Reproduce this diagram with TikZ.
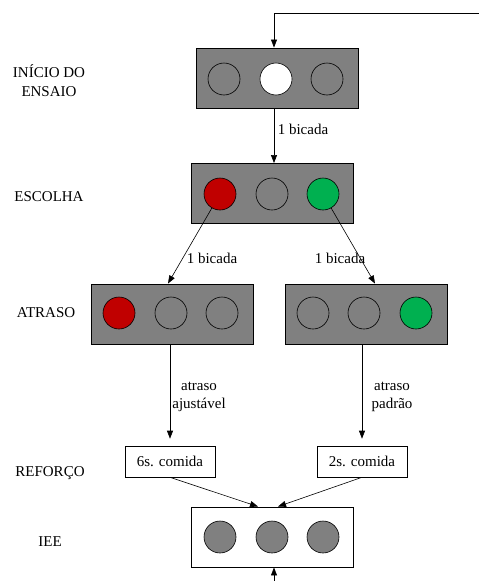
\documentclass[tikz,border=0pt]{standalone}
\usepackage{fontspec}
\setmainfont{Liberation Serif}
\usetikzlibrary{arrows.meta}
\definecolor{boxgray}{HTML}{808080}
\definecolor{lred}{HTML}{C00000}
\definecolor{lgreen}{HTML}{00B050}
\begin{document}
\begin{tikzpicture}[x=1pt,y=-1pt,
  font=\fontsize{15pt}{18.5pt}\selectfont,
  panel/.style={draw=black, line width=0.9pt, minimum width=162pt, minimum height=60pt, inner sep=0pt},
  graypanel/.style={panel, fill=boxgray},
  whitepanel/.style={panel, fill=white},
  lamp/.style={circle, draw=black, line width=0.6pt, minimum size=32pt, inner sep=0pt},
  foodbox/.style={draw=black, line width=0.6pt, fill=white, minimum width=90pt, minimum height=31pt, inner sep=0pt},
  lbl/.style={align=center, inner sep=0pt},
  arr/.style={draw=black, line width=0.6pt, -{Triangle[length=8pt,width=6pt]}}
]
\useasboundingbox (0,0) rectangle (479,581);

% panels
\node[graypanel] (b1) at (277,78) {};
\node[graypanel] (b2) at (272.5,193.5) {};
\node[graypanel] (b3) at (172,314) {};
\node[graypanel] (b4) at (366,314) {};
\node[foodbox] (b5) at (170,461.5) {6s. comida};
\node[foodbox] (b6) at (362,461.5) {2s. comida};
\node[whitepanel] (b7) at (272.5,537) {};

% lamps
\node[lamp] (c11) at (224,79) {};
\node[lamp, fill=white] (c12) at (276,79) {};
\node[lamp] (c13) at (327,79) {};
\node[lamp, fill=lred] (c21) at (220,194) {};
\node[lamp] (c22) at (272,194) {};
\node[lamp, fill=lgreen] (c23) at (323,194) {};
\node[lamp, fill=lred] (c31) at (119,313) {};
\node[lamp] (c32) at (171,313) {};
\node[lamp] (c33) at (222,313) {};
\node[lamp] (c41) at (313,313) {};
\node[lamp] (c42) at (364,313) {};
\node[lamp, fill=lgreen] (c43) at (416,313) {};
\node[lamp, fill=boxgray] (c71) at (220,537) {};
\node[lamp, fill=boxgray] (c72) at (272,537) {};
\node[lamp, fill=boxgray] (c73) at (323,537) {};

% left labels
\node[lbl] (l1) at (49,80.5) {INÍCIO DO\\ENSAIO};
\node[lbl] (l2) at (49,197) {ESCOLHA};
\node[lbl] (l3) at (46,313) {ATRASO};
\node[lbl] (l4) at (50,473) {REFORÇO};
\node[lbl] (l5) at (50,542) {IEE};

% connector labels
\node[lbl] (t1) at (303,129) {1 bicada};
\node[lbl] (t2) at (212,258) {1 bicada};
\node[lbl] (t3) at (340,258) {1 bicada};
\node[lbl] (t4) at (199,397) {atraso\\ajustável};
\node[lbl] (t5) at (392,397) {atraso\\padrão};

% coordinates
\coordinate (topR) at (479,13);
\coordinate (botS) at (274,581);

% connectors
\draw[arr] (topR) -| ([xshift=-3pt]b1.north);
\draw[arr] ([xshift=-3pt]b1.south) -- ([xshift=-3pt]b1.south |- b2.north);
\draw[arr] (c21) -- ([xshift=-4pt]b3.north);
\draw[arr] (c23) -- ([xshift=9pt]b4.north);
\draw[arr] ([xshift=-2pt]b3.south) -- ([xshift=-2pt,yshift=7pt]b3.south |- b5.north);
\draw[arr] ([xshift=-4pt]b4.south) -- ([xshift=-4pt,yshift=7pt]b4.south |- b6.north);
\draw[arr] (b5.south) -- ([xshift=-14.5pt]b7.north);
\draw[arr] (b6.south) -- ([xshift=5.5pt]b7.north);
\draw[arr] (botS) -- (botS |- b7.south);
\end{tikzpicture}
\end{document}
